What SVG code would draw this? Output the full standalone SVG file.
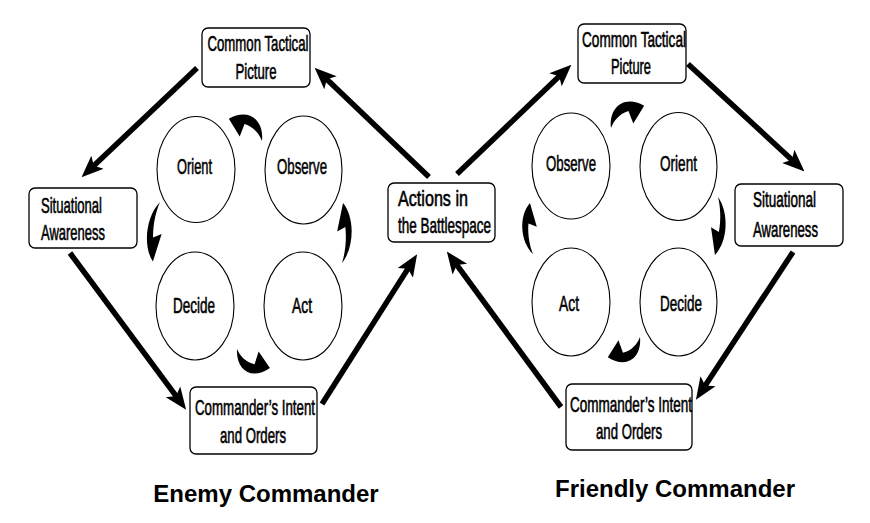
<svg xmlns="http://www.w3.org/2000/svg" width="870" height="523" viewBox="0 0 870 523">
<style>
.box{fill:#fff;stroke:#000;stroke-width:1.3}
.ell{fill:#fff;stroke:#000;stroke-width:1.1}
.lbl{font-family:"Liberation Sans",Arial,sans-serif;font-size:21.5px;fill:#000;text-anchor:middle;stroke:#000;stroke-width:0.6}
.el{font-size:22.5px}
.title{font-family:"Liberation Sans",Arial,sans-serif;font-size:24px;font-weight:bold;fill:#000;text-anchor:middle}
.big{fill:none;stroke:#000;stroke-width:5.5;marker-end:url(#head)}
.cur{fill:#000}
</style>
<defs>
<marker id="head" markerUnits="userSpaceOnUse" markerWidth="22" markerHeight="20" viewBox="0 0 22 20" refX="8" refY="10" orient="auto">
<path d="M0,1 L22,10 L0,19 L5,10 Z" fill="#000"/>
</marker>
<path id="ca" d="M0,0 C10,-13 30,-14 40,0 L21,6 L24,-3 C15,-5 6,-3 0,0 Z"/>
</defs>

<g id="connectors">
<line class="big" x1="197" y1="68" x2="91.7" y2="167.7"/>
<line class="big" x1="429" y1="177" x2="324.7" y2="77.3"/>
<line class="big" x1="70" y1="253" x2="177.8" y2="398.4"/>
<line class="big" x1="322" y1="404" x2="409.6" y2="266.1"/>
<line class="big" x1="457" y1="174" x2="561.3" y2="74.3"/>
<line class="big" x1="688" y1="64" x2="794.2" y2="161.9"/>
<line class="big" x1="793" y1="252" x2="703.6" y2="388"/>
<line class="big" x1="561" y1="407" x2="455.1" y2="262.7"/>
<use class="cur" href="#ca" transform="translate(262,141) rotate(214) scale(1,-1.45)"/>
<use class="cur" href="#ca" transform="translate(160,202) rotate(96.8) scale(1.5,-0.9)"/>
<use class="cur" href="#ca" transform="translate(237,349) rotate(30) scale(0.95,-1.45)"/>
<use class="cur" href="#ca" transform="translate(342,263) rotate(-89) scale(1.5,-0.9)"/>
<use class="cur" href="#ca" transform="translate(611,128) rotate(-34) scale(1,1.45)"/>
<use class="cur" href="#ca" transform="translate(718,197) rotate(93) scale(1.45,0.9)"/>
<use class="cur" href="#ca" transform="translate(640,337) rotate(148) scale(0.95,1.45)"/>
<use class="cur" href="#ca" transform="translate(533,254) rotate(-93.4) scale(1.28,0.9)"/>
</g>

<g id="enemy-ctp">
<rect class="box" x="202" y="28" width="108" height="59" rx="6"/>
<text class="lbl" x="258" y="51" textLength="101" lengthAdjust="spacingAndGlyphs">Common Tactical</text>
<text class="lbl" x="256" y="79" textLength="41" lengthAdjust="spacingAndGlyphs">Picture</text>
</g>
<g id="enemy-sa">
<rect class="box" x="29" y="188" width="108" height="60" rx="6"/>
<text class="lbl" x="71.5" y="213" textLength="61" lengthAdjust="spacingAndGlyphs">Situational</text>
<text class="lbl" x="73" y="240" textLength="64" lengthAdjust="spacingAndGlyphs">Awareness</text>
</g>
<g id="actions">
<rect class="box" x="388" y="183" width="107" height="59" rx="6"/>
<text class="lbl" x="433" y="206" textLength="70" lengthAdjust="spacingAndGlyphs">Actions in</text>
<text class="lbl" x="444.5" y="233" textLength="93" lengthAdjust="spacingAndGlyphs">the Battlespace</text>
</g>
<g id="enemy-ci">
<rect class="box" x="190" y="387" width="127" height="67" rx="6"/>
<text class="lbl" x="255" y="415" textLength="120" lengthAdjust="spacingAndGlyphs">Commander’s Intent</text>
<text class="lbl" x="253" y="443" textLength="66" lengthAdjust="spacingAndGlyphs">and Orders</text>
</g>
<g id="enemy-orient">
<ellipse class="ell" cx="196" cy="169.5" rx="39" ry="53"/>
<text class="lbl el" x="194.5" y="174" textLength="35" lengthAdjust="spacingAndGlyphs">Orient</text>
</g>
<g id="enemy-observe">
<ellipse class="ell" cx="303.5" cy="170" rx="38.5" ry="54"/>
<text class="lbl el" x="302" y="174" textLength="50" lengthAdjust="spacingAndGlyphs">Observe</text>
</g>
<g id="enemy-decide">
<ellipse class="ell" cx="195" cy="306" rx="39" ry="54"/>
<text class="lbl el" x="194" y="313" textLength="42" lengthAdjust="spacingAndGlyphs">Decide</text>
</g>
<g id="enemy-act">
<ellipse class="ell" cx="303" cy="306" rx="39" ry="54"/>
<text class="lbl el" x="302" y="313" textLength="20" lengthAdjust="spacingAndGlyphs">Act</text>
</g>
<g id="enemy-title">
<text class="title" x="266" y="502">Enemy Commander</text>
</g>

<g id="friendly-ctp">
<rect class="box" x="578" y="24" width="108" height="59" rx="6"/>
<text class="lbl" x="634" y="47" textLength="104" lengthAdjust="spacingAndGlyphs">Common Tactical</text>
<text class="lbl" x="631" y="74" textLength="40" lengthAdjust="spacingAndGlyphs">Picture</text>
</g>
<g id="friendly-sa">
<rect class="box" x="735" y="184" width="108" height="62" rx="6"/>
<text class="lbl" x="784.5" y="207" textLength="63" lengthAdjust="spacingAndGlyphs">Situational</text>
<text class="lbl" x="785.5" y="237" textLength="65" lengthAdjust="spacingAndGlyphs">Awareness</text>
</g>
<g id="friendly-ci">
<rect class="box" x="566" y="384" width="126" height="66" rx="6"/>
<text class="lbl" x="631" y="412" textLength="122" lengthAdjust="spacingAndGlyphs">Commander’s Intent</text>
<text class="lbl" x="629" y="439" textLength="66" lengthAdjust="spacingAndGlyphs">and Orders</text>
</g>
<g id="friendly-observe">
<ellipse class="ell" cx="571" cy="166" rx="39" ry="53"/>
<text class="lbl el" x="571" y="171" textLength="50" lengthAdjust="spacingAndGlyphs">Observe</text>
</g>
<g id="friendly-orient">
<ellipse class="ell" cx="678.5" cy="166.5" rx="38.5" ry="54"/>
<text class="lbl el" x="678.5" y="171" textLength="37" lengthAdjust="spacingAndGlyphs">Orient</text>
</g>
<g id="friendly-act">
<ellipse class="ell" cx="571" cy="302" rx="39" ry="54"/>
<text class="lbl el" x="569" y="311" textLength="20" lengthAdjust="spacingAndGlyphs">Act</text>
</g>
<g id="friendly-decide">
<ellipse class="ell" cx="678.5" cy="302" rx="38.5" ry="54"/>
<text class="lbl el" x="681" y="311" textLength="42" lengthAdjust="spacingAndGlyphs">Decide</text>
</g>
<g id="friendly-title">
<text class="title" x="675" y="497">Friendly Commander</text>
</g>
</svg>
